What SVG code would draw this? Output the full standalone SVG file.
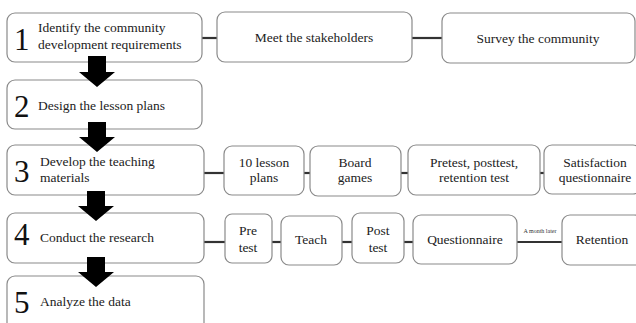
<svg xmlns="http://www.w3.org/2000/svg" width="636" height="323" viewBox="0 0 636 323">
<style>
.box{fill:#fff;stroke:#8a8a8a;stroke-width:1.2}
text{font-family:'Liberation Serif','DejaVu Serif',serif}
.t{font-size:13.5px;fill:#222}
.c{text-anchor:middle}
.n{font-size:31px;fill:#111}
.ln{stroke:#333;stroke-width:2.2;fill:none}
.arr{fill:#000}
.sm{font-size:6px;fill:#333;text-anchor:middle}
</style>
<rect width="636" height="323" fill="#fff"/>
<g id="connectors">
<line class="ln" x1="202" y1="38" x2="217" y2="38"/>
<line class="ln" x1="412" y1="38" x2="442" y2="38"/>
<line class="ln" x1="204" y1="173" x2="224" y2="173"/>
<line class="ln" x1="304" y1="173" x2="310" y2="173"/>
<line class="ln" x1="401" y1="173" x2="408" y2="173"/>
<line class="ln" x1="540" y1="173" x2="544" y2="173"/>
<line class="ln" x1="204" y1="242" x2="225" y2="242"/>
<line class="ln" x1="272" y1="242" x2="281" y2="242"/>
<line class="ln" x1="342" y1="242" x2="352" y2="242"/>
<line class="ln" x1="404" y1="242" x2="413" y2="242"/>
<line class="ln" x1="517" y1="242" x2="562" y2="242"/>
<text class="sm" x="540" y="233">A month later</text>
</g>
<g id="step1">
<rect class="box" x="7" y="13" width="195" height="49" rx="8"/>
<text class="n" x="14" y="50">1</text>
<text class="t" x="38" y="32">Identify the community</text>
<text class="t" x="38" y="49">development requirements</text>
</g>
<g id="meet">
<rect class="box" x="217" y="12" width="195" height="50" rx="8"/>
<text class="t c" x="314" y="42">Meet the stakeholders</text>
</g>
<g id="survey">
<rect class="box" x="442" y="13" width="193" height="50" rx="8"/>
<text class="t c" x="538" y="43">Survey the community</text>
</g>
<g id="step2">
<rect class="box" x="7" y="80" width="195" height="49" rx="8"/>
<text class="n" x="14" y="117">2</text>
<text class="t" x="38" y="110">Design the lesson plans</text>
</g>
<g id="step3">
<rect class="box" x="7" y="145" width="197" height="50" rx="8"/>
<text class="n" x="14" y="182">3</text>
<text class="t" x="40" y="166">Develop the teaching</text>
<text class="t" x="40" y="182">materials</text>
</g>
<g id="lessonplans">
<rect class="box" x="224" y="146" width="80" height="49" rx="8"/>
<text class="t c" x="264" y="167">10 lesson</text>
<text class="t c" x="264" y="182">plans</text>
</g>
<g id="boardgames">
<rect class="box" x="310" y="146" width="91" height="50" rx="8"/>
<text class="t c" x="355" y="167">Board</text>
<text class="t c" x="355" y="182">games</text>
</g>
<g id="tests">
<rect class="box" x="408" y="145" width="132" height="50" rx="8"/>
<text class="t c" x="474" y="167">Pretest, posttest,</text>
<text class="t c" x="474" y="182">retention test</text>
</g>
<g id="satisfaction">
<rect class="box" x="544" y="145" width="97" height="49" rx="8"/>
<text class="t c" x="595" y="167">Satisfaction</text>
<text class="t c" x="595" y="182">questionnaire</text>
</g>
<g id="step4">
<rect class="box" x="7" y="213" width="197" height="50" rx="8"/>
<text class="n" x="14" y="245">4</text>
<text class="t" x="40" y="242">Conduct the research</text>
</g>
<g id="pretest">
<rect class="box" x="225" y="214" width="47" height="49" rx="7"/>
<text class="t c" x="248" y="235">Pre</text>
<text class="t c" x="248" y="252">test</text>
</g>
<g id="teach">
<rect class="box" x="281" y="216" width="61" height="49" rx="8"/>
<text class="t c" x="311" y="244">Teach</text>
</g>
<g id="posttest">
<rect class="box" x="352" y="213" width="52" height="50" rx="8"/>
<text class="t c" x="378" y="235">Post</text>
<text class="t c" x="378" y="252">test</text>
</g>
<g id="questionnaire">
<rect class="box" x="413" y="215" width="104" height="49" rx="8"/>
<text class="t c" x="465" y="244">Questionnaire</text>
</g>
<g id="retention">
<rect class="box" x="562" y="215" width="80" height="50" rx="8"/>
<text class="t c" x="602" y="244">Retention</text>
</g>
<g id="step5">
<rect class="box" x="7" y="276" width="197" height="60" rx="8"/>
<text class="n" x="14" y="313">5</text>
<text class="t" x="40" y="306">Analyze the data</text>
</g>
<g id="arrows">
<polygon class="arr" points="88,56 106,56 106,72 115,72 97,87 79,72 88,72"/>
<polygon class="arr" points="88,122 106,122 106,137 115,137 97,152 79,137 88,137"/>
<polygon class="arr" points="87,191 105,191 105,206 114,206 96,221 78,206 87,206"/>
<polygon class="arr" points="87,257 105,257 105,272 114,272 96,287 78,272 87,272"/>
</g>
</svg>
